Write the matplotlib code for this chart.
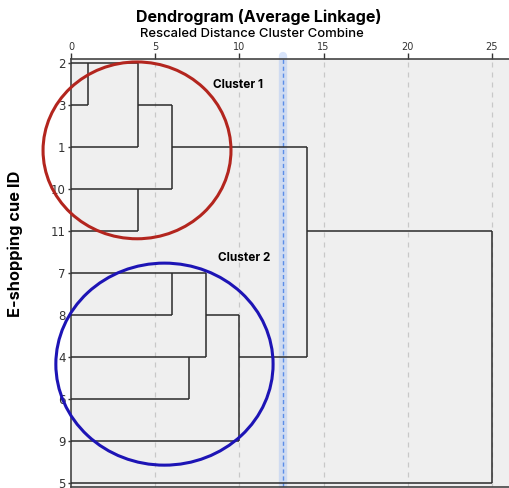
import numpy as np
import matplotlib.pyplot as plt
from matplotlib.patches import Ellipse

# leaf labels in plotted order (top to bottom)
leaf_ids = ["2", "3", "1", "10", "11", "7", "8", "4", "6", "9", "5"]

# merges: (child a, child b, rescaled distance); leaves are 0..10, new clusters 11..
merge_a = [0, 11, 3, 12, 5, 7, 15, 17, 14, 19]
merge_b = [1, 2, 4, 13, 6, 8, 16, 9, 18, 10]
merge_dist = [1, 4, 4, 6, 6, 7, 8, 10, 14, 25]

x_ticks = [0, 5, 10, 15, 20, 25]
cut_dist = 12.6

# cluster outlines: (center x, center row, width, height)
cluster_names = ["Cluster 1", "Cluster 2"]
cluster_colors = ["#b3251e", "#1d14b5"]
cluster_ellipses = [(3.92, 2.08, 11.16, 4.21), (5.55, 7.17, 12.9, 4.81)]
cluster_label_pos = [(9.9, 0.52), (10.3, 4.64)]


def plot_dendrogram(ax):
    n = len(leaf_ids)
    pos = {i: (i, 0.0) for i in range(n)}  # node -> (row, x)
    line_kw = dict(color="#2b2b2b", lw=1.1, solid_capstyle="butt", zorder=3)
    for k, (a, b, d) in enumerate(zip(merge_a, merge_b, merge_dist)):
        ra, xa = pos[a]
        rb, xb = pos[b]
        ax.plot([xa, d], [ra, ra], **line_kw)
        ax.plot([xb, d], [rb, rb], **line_kw)
        ax.plot([d, d], [ra, rb], **line_kw)
        pos[n + k] = (int(np.floor((ra + rb) / 2)), d)


fig = plt.figure(figsize=(5.09, 4.88), dpi=100)
W, H = 509, 488
ax = fig.add_axes([71 / W, 1 / H, (530 - 71) / W, (487 - 59) / H])
ax.set_facecolor("#efefef")

plot_dendrogram(ax)

px = 16.84
ax.set_xlim(0, (530 - 71) / px)
ax.set_ylim(10 + 4 / 42, -4 / 42)

for x in x_ticks[1:]:
    ax.axvline(x, color="#c8c8c8", lw=0.9, ls=(0, (4, 4)), zorder=1)

ax.xaxis.tick_top()
ax.set_xticks(x_ticks)
ax.set_xticklabels([str(t) for t in x_ticks], fontsize=7, color="#333333")
ax.tick_params(axis="x", length=4, width=1, color="#333333", pad=1)
ax.set_yticks(range(len(leaf_ids)))
ax.set_yticklabels(leaf_ids, fontsize=8.5, color="#333333")
ax.tick_params(axis="y", length=2, width=1, color="#333333", pad=2)
for s in ["top", "left", "bottom"]:
    ax.spines[s].set_color("#444444")
    ax.spines[s].set_linewidth(1.2)

# cut line
ax.axvline(cut_dist, ymax=1.006, color="#a9c4f4", lw=6, alpha=0.45, zorder=2,
           solid_capstyle="round", clip_on=False)
ax.axvline(cut_dist, color="#5b8ee8", lw=1, ls=(0, (3, 2)), zorder=2)

for name, col, (cx, cy, w, h), (lx, ly) in zip(cluster_names, cluster_colors,
                                               cluster_ellipses, cluster_label_pos):
    ax.add_patch(Ellipse((cx, cy), w, h, fill=False, ec=col, lw=2.2,
                         zorder=4, clip_on=False))
    ax.text(lx, ly, name, fontsize=8.5, fontweight="bold", family="Inter",
            ha="center", va="center", zorder=5)

fig.text(259 / W, 1 - 17 / H, "Dendrogram (Average Linkage)", family="Inter",
         fontsize=11.5, fontweight="bold", ha="center", va="center")
fig.text(252 / W, 1 - 34 / H, "Rescaled Distance Cluster Combine", family="Inter",
         fontsize=9.4, fontweight="medium", ha="center", va="center")
fig.text(15 / W, 1 - 244 / H, "E-shopping cue ID", family="Inter",
         fontsize=11.8, fontweight="bold", rotation=90, ha="center", va="center")

fig.savefig("out.png", dpi=100)
